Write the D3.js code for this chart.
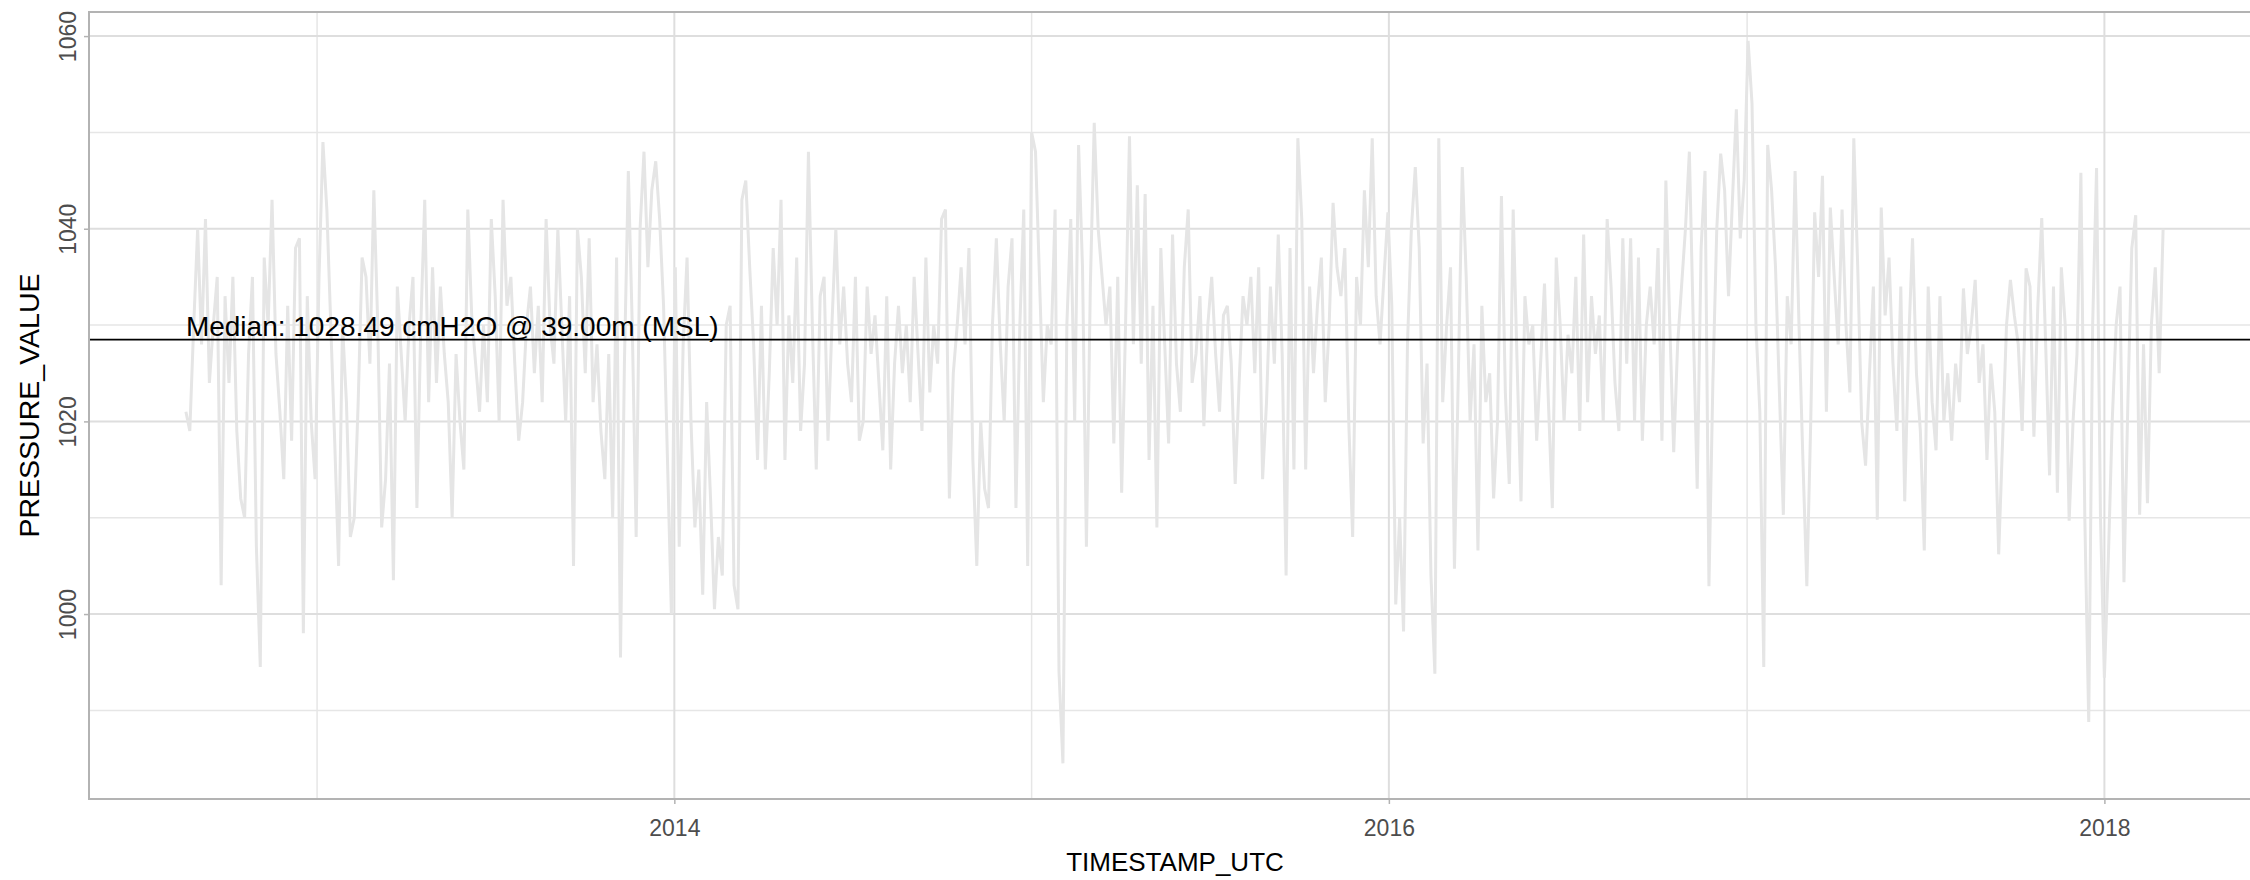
<!DOCTYPE html>
<html lang="en">
<head>
<meta charset="UTF-8">
<title>PRESSURE_VALUE</title>
<script src="https://cdn.jsdelivr.net/npm/d3@7/dist/d3.min.js"></script>
<style>
  body { margin: 0; background: #fff; }
  svg { display: block; font-family: "Liberation Sans", Arial, sans-serif; }
  .grid-major { stroke: #dedede; stroke-width: 2; }
  .grid-minor { stroke: #e6e6e6; stroke-width: 1.5; }
  .axis path { display: none; }
  .axis line { stroke: #b3b3b3; stroke-width: 1.5; }
  .axis text { fill: #4d4d4d; font-size: 23px; font-family: "Liberation Sans", Arial, sans-serif; }
  .series { fill: none; stroke: #e5e5e5; stroke-width: 3; stroke-linejoin: miter; }
  .median { stroke: #000; stroke-width: 1.8; }
</style>
</head>
<body>
<div id="chart"></div>
<script>
// pressure samples, every 4 days from 2012-08-20
const seriesStart = "2012-08-20";
const stepDays = 4;

const pressure2012 = [1021, 1019, 1030, 1040, 1028, 1041, 1024, 1030, 1035, 1003, 1033, 1024, 1035, 1019, 1012, 1010, 1027,
  1035, 1007, 994.5, 1037, 1030, 1043, 1027, 1021, 1014, 1032, 1018, 1038, 1039, 998, 1033, 1020, 1014];
const pressure2013 = [1035, 1049, 1042, 1030, 1018, 1005, 1030, 1022, 1008, 1010, 1022, 1037, 1035, 1026, 1044, 1030, 1009,
  1014, 1026, 1003.5, 1034, 1027, 1020, 1030, 1035, 1011, 1030, 1043, 1022, 1036, 1024, 1034, 1027, 1022, 1010, 1027,
  1020, 1015, 1042, 1031, 1026, 1021, 1030, 1022, 1041, 1033, 1020, 1043, 1032, 1035, 1026, 1018, 1022, 1030, 1034,
  1025, 1032, 1022, 1041, 1030, 1026, 1040, 1030, 1020, 1033, 1005, 1040, 1035, 1025, 1039, 1022, 1028, 1019, 1014,
  1027, 1010, 1037, 995.5, 1026, 1046, 1030, 1008, 1040, 1048, 1036, 1044, 1047, 1041, 1032, 1016, 1000];
const pressure2014 = [1036, 1007, 1028, 1037, 1020, 1009, 1015, 1002, 1022, 1012, 1000.5, 1008, 1004, 1030, 1032, 1003,
  1000.5, 1043, 1045, 1036, 1028, 1016, 1032, 1015, 1025, 1038, 1030, 1043, 1016, 1031, 1024, 1037, 1019, 1026, 1048,
  1030, 1015, 1033, 1035, 1018, 1030, 1040, 1028, 1034, 1026, 1022, 1035, 1018, 1020, 1034, 1027, 1031, 1024, 1017,
  1033, 1015, 1026, 1032, 1025, 1030, 1022, 1035, 1027, 1019, 1037, 1023, 1030, 1026, 1041, 1042, 1012, 1025, 1030,
  1036, 1028, 1038, 1016, 1005, 1020, 1013, 1011, 1030, 1039, 1028, 1020, 1034, 1039, 1011, 1030, 1042, 1005];
const pressure2015 = [1050, 1048, 1035, 1022, 1030, 1028, 1042, 994, 984.5, 1030, 1041, 1020, 1048.7, 1036, 1007, 1034,
  1051, 1040, 1035, 1030, 1034, 1017.7, 1035, 1012.6, 1030, 1049.6, 1028, 1044.5, 1026, 1043.6, 1016, 1032, 1009, 1038,
  1028, 1017.7, 1039.4, 1026, 1021, 1036, 1042, 1024, 1027, 1033, 1019.5, 1030, 1035, 1027, 1021, 1031, 1032, 1026,
  1013.5, 1024, 1033, 1030, 1035, 1025, 1036, 1014, 1022, 1034, 1026, 1039.4, 1027, 1004, 1038, 1015, 1049.4, 1041,
  1015, 1034, 1025, 1032, 1037, 1022, 1030, 1042.7, 1036, 1033, 1038, 1020, 1008, 1035, 1030, 1044, 1036, 1049.4, 1033,
  1028, 1035, 1041.7];
const pressure2016 = [1032, 1001, 1010, 998.2, 1028, 1040, 1046.4, 1038, 1017.7, 1026, 1004, 993.8, 1049.4, 1022, 1030,
  1036, 1004.7, 1025, 1046.4, 1035, 1020, 1028, 1006.6, 1032, 1022, 1025, 1012, 1020, 1043.4, 1023, 1013.5, 1042, 1026,
  1011.7, 1033, 1028, 1030, 1018, 1026, 1034.3, 1022, 1011, 1037, 1030, 1020, 1029, 1025, 1035, 1019, 1039.4, 1022, 1033,
  1027, 1031, 1020, 1041, 1034, 1024, 1019, 1039, 1026, 1039, 1020, 1037, 1018, 1030, 1034, 1028, 1038, 1018, 1045,
  1030, 1016.8, 1028, 1034, 1040, 1048, 1030, 1013, 1038, 1046, 1002.9, 1024, 1040, 1047.8, 1044, 1033, 1043, 1052.4,
  1039, 1045];
const pressure2017 = [1059.5, 1053, 1030, 1021, 994.5, 1048.7, 1044, 1036, 1023, 1010.3, 1033, 1028, 1046, 1030, 1016,
  1002.9, 1020, 1041.7, 1035, 1045.5, 1021, 1042.2, 1035, 1028, 1042, 1030, 1023, 1049.4, 1036, 1020, 1015.4, 1025, 1034,
  1009.8, 1042.2, 1031, 1037, 1026, 1019, 1034, 1011.7, 1028, 1039, 1025, 1019, 1006.6, 1034, 1022, 1017, 1033, 1020,
  1025, 1018, 1026, 1022, 1033.8, 1027, 1030, 1034.7, 1024, 1028, 1016, 1026, 1021, 1006.2, 1018, 1030, 1034.7, 1031,
  1028, 1019, 1035.9, 1034, 1018.4, 1032, 1041.1, 1028, 1014.4, 1034, 1012.6, 1036, 1030, 1009.7, 1020, 1027, 1045.8,
  1010, 988.8, 1030, 1046.3, 1010];
const pressure2018 = [993.4, 1005.6, 1020, 1030, 1034, 1003.3, 1022, 1038, 1041.4, 1010.3, 1028, 1011.5, 1030, 1036, 1025, 1040];

const yMajorTicks = [1000, 1020, 1040, 1060];
const yMinorTicks = [990, 1010, 1030, 1050];
const xMajorTicks = ["2014-01-01", "2016-01-01", "2018-01-01"];
const xMinorTicks = ["2013-01-01", "2015-01-01", "2017-01-01"];
const medianValue = 1028.49;
const medianLabel = "Median: 1028.49 cmH2O @ 39.00m (MSL)";

const width = 2250, height = 880;
const panel = { left: 89, top: 12, right: 2261, bottom: 799 };

const values = [].concat(pressure2012, pressure2013, pressure2014, pressure2015, pressure2016, pressure2017, pressure2018);
const t0 = new Date(seriesStart);
const data = values.map((v, i) => ({ t: d3.utcDay.offset(t0, i * stepDays), v: v }));

const x = d3.scaleUtc()
  .domain([new Date("2012-05-13"), new Date("2018-06-10")])
  .range([panel.left, panel.right]);
const y = d3.scaleLinear()
  .domain([980.8, 1062.5])
  .range([panel.bottom, panel.top]);

const svg = d3.select("#chart").append("svg")
  .attr("width", width)
  .attr("height", height);

// grid
svg.append("g").selectAll("line").data(yMinorTicks).join("line")
  .attr("class", "grid-minor")
  .attr("x1", panel.left).attr("x2", panel.right)
  .attr("y1", d => y(d)).attr("y2", d => y(d));
svg.append("g").selectAll("line").data(xMinorTicks.map(d => new Date(d))).join("line")
  .attr("class", "grid-minor")
  .attr("x1", d => x(d)).attr("x2", d => x(d))
  .attr("y1", panel.top).attr("y2", panel.bottom);
svg.append("g").selectAll("line").data(yMajorTicks).join("line")
  .attr("class", "grid-major")
  .attr("x1", panel.left).attr("x2", panel.right)
  .attr("y1", d => y(d)).attr("y2", d => y(d));
svg.append("g").selectAll("line").data(xMajorTicks.map(d => new Date(d))).join("line")
  .attr("class", "grid-major")
  .attr("x1", d => x(d)).attr("x2", d => x(d))
  .attr("y1", panel.top).attr("y2", panel.bottom);

// series
const line = d3.line().x(d => x(d.t)).y(d => y(d.v));
svg.append("path").datum(data)
  .attr("class", "series")
  .attr("d", line);

// median
svg.append("line")
  .attr("class", "median")
  .attr("x1", panel.left).attr("x2", panel.right)
  .attr("y1", y(medianValue)).attr("y2", y(medianValue));
svg.append("text")
  .attr("x", x(t0))
  .attr("y", y(medianValue) - 4)
  .attr("font-size", 28)
  .attr("fill", "#000")
  .text(medianLabel);

// panel border
svg.append("rect")
  .attr("x", panel.left).attr("y", panel.top)
  .attr("width", panel.right - panel.left)
  .attr("height", panel.bottom - panel.top)
  .attr("fill", "none")
  .attr("stroke", "#b3b3b3")
  .attr("stroke-width", 2);

// axes
svg.append("g")
  .attr("class", "axis")
  .attr("transform", `translate(0,${panel.bottom})`)
  .call(d3.axisBottom(x)
    .tickValues(xMajorTicks.map(d => new Date(d)))
    .tickFormat(d3.utcFormat("%Y"))
    .tickSize(5)
    .tickPadding(16));

const yAxis = svg.append("g")
  .attr("class", "axis")
  .attr("transform", `translate(${panel.left},0)`)
  .call(d3.axisLeft(y).tickValues(yMajorTicks).tickFormat(d3.format("d")).tickSize(5));
yAxis.selectAll("text")
  .attr("x", null).attr("dy", null)
  .attr("text-anchor", "middle")
  .attr("transform", "translate(-13,0) rotate(-90)");

// titles
svg.append("text")
  .attr("x", (panel.left + panel.right) / 2)
  .attr("y", 871)
  .attr("text-anchor", "middle")
  .attr("font-size", 26)
  .text("TIMESTAMP_UTC");
svg.append("text")
  .attr("transform", `translate(39,${(panel.top + panel.bottom) / 2}) rotate(-90)`)
  .attr("text-anchor", "middle")
  .attr("font-size", 28.5)
  .text("PRESSURE_VALUE");
</script>
</body>
</html>
